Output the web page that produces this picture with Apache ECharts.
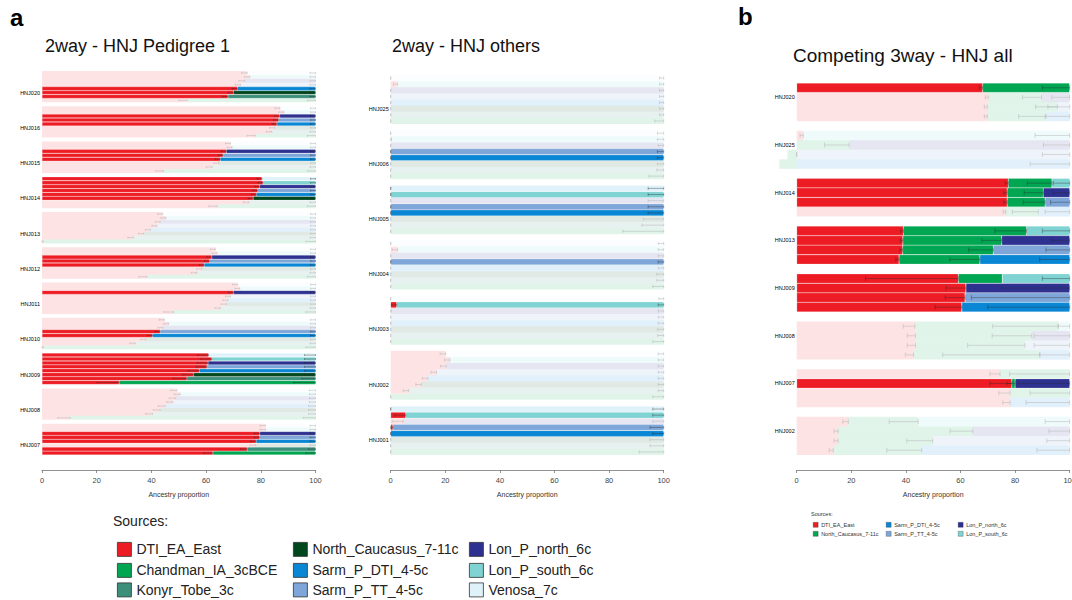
<!DOCTYPE html>
<html>
<head>
<meta charset="utf-8">
<script src="https://cdn.jsdelivr.net/npm/echarts@6/dist/echarts.min.js"></script>
<style>
html, body { margin: 0; padding: 0; background: #fff; }
#chart { width: 1072px; height: 600px; }
</style>
</head>
<body>
<div id="chart"></div>
<script>
// sources and their colours
const sourceNames = ['DTI_EA_East', 'Chandman_IA_3cBCE', 'Konyr_Tobe_3c', 'North_Caucasus_7-11c',
  'Sarm_P_DTI_4-5c', 'Sarm_P_TT_4-5c', 'Lon_P_north_6c', 'Lon_P_south_6c', 'Venosa_7c'];
const sourceColors = ['#ed1c24', '#00a651', '#3b8f7b', '#00471d',
  '#0a87d4', '#7ea6d8', '#2e3190', '#7fd3d2', '#dff2fa'];

// second source of each row inside a 2way group (top -> bottom)
const rows2way = ['Venosa_7c', 'Lon_P_south_6c', 'Lon_P_north_6c', 'Sarm_P_TT_4-5c',
  'Sarm_P_DTI_4-5c', 'North_Caucasus_7-11c', 'Konyr_Tobe_3c', 'Chandman_IA_3cBCE'];
// third source of each row inside a 3way group
const rows3way = ['Lon_P_south_6c', 'Lon_P_north_6c', 'Sarm_P_TT_4-5c', 'Sarm_P_DTI_4-5c'];

const xTicks = [0, 20, 40, 60, 80, 100];

// ---- panel a, 2way - HNJ Pedigree 1 ----
const groupsPed = ['HNJ020', 'HNJ016', 'HNJ015', 'HNJ014', 'HNJ013', 'HNJ012', 'HNJ011', 'HNJ010', 'HNJ009', 'HNJ008', 'HNJ007'];
// DTI_EA_East proportion (%) per row
const dtiPed = [
  [75, 76, 74, 72.6, 71.5, 70, 68, 53],
  [87, 88.4, 86.9, 86.5, 85.9, 85, 84, 78],
  [68.9, 69.5, 67.4, 66.2, 65.2, 64.6, 62.1, 44.4],
  [80.4, 80.8, 79.6, 78.9, 78.4, 77.2, 75.6, 64],
  [44.1, 45.3, 43.2, 42, 39.6, 37.1, 33.4, 0.5],
  [63.4, 64, 62.1, 61.3, 59.3, 58.4, 56.6, 38.3],
  [71.5, 72.3, 70, 68.9, 68, 67.3, 65.2, 48.1],
  [44.7, 46.3, 44.2, 43.2, 40.4, 37.9, 34.1, 0.5],
  [60.9, 62.1, 60.7, 60.3, 57.5, 55.4, 53, 28.2],
  [49.3, 50.5, 48.7, 47.8, 45, 43.2, 40.4, 10.3],
  [81.7, 81.7, 79.6, 79.6, 78.3, 78, 75, 62.5]
];
// 1 = model fits (solid), 0 = rejected (faded)
const okPed = [
  [0, 0, 0, 0, 1, 1, 1, 0],
  [0, 0, 1, 1, 1, 0, 0, 0],
  [0, 0, 1, 1, 1, 0, 0, 0],
  [1, 1, 1, 1, 1, 1, 0, 0],
  [0, 0, 0, 0, 0, 0, 0, 0],
  [0, 0, 1, 1, 1, 0, 0, 0],
  [0, 0, 1, 0, 0, 0, 0, 0],
  [0, 0, 0, 1, 1, 0, 0, 0],
  [1, 1, 1, 1, 1, 1, 1, 1],
  [0, 0, 0, 0, 0, 0, 0, 0],
  [0, 0, 1, 1, 1, 0, 1, 1]
];
const sePed = [
  [2, 2, 2, 2, 2, 2, 2, 3],
  [1.8, 1.8, 1.8, 1.8, 1.8, 1.8, 2, 3],
  [1.8, 1.8, 1.8, 1.8, 1.8, 1.8, 2, 2.8],
  [1.8, 1.8, 1.8, 1.8, 1.8, 1.8, 2, 3],
  [1.8, 1.8, 1.8, 1.8, 1.8, 1.8, 2, 3.5],
  [1.8, 1.8, 1.8, 1.8, 1.8, 1.8, 2, 3],
  [1.8, 1.8, 1.8, 1.8, 1.8, 1.8, 2, 3.5],
  [1.8, 1.8, 1.8, 1.8, 1.8, 1.8, 2, 3.5],
  [4, 4, 4, 4, 4, 4, 5, 8],
  [2.2, 2.2, 2.2, 2.2, 2.5, 2.5, 2.5, 4.5],
  [2, 2, 2, 2, 2, 2, 2.5, 3.5]
];

// ---- panel a, 2way - HNJ others ----
const groupsOth = ['HNJ025', 'HNJ006', 'HNJ005', 'HNJ004', 'HNJ003', 'HNJ002', 'HNJ001'];
const dtiOth = [
  [0, 2.5, 0, 0, 0, 0, 0, 0],
  [0, 0.3, 0, 0, 0, 0, 0, 0],
  [0, 0, 0, 0, 0, 0, 0, 0],
  [0, 2.5, 0, 0, 0, 0, 0, 0],
  [0, 2.2, 0.2, 0, 0, 0, 0, 0],
  [20.1, 21.7, 20.3, 16.8, 13.6, 11.2, 6.6, 0],
  [0, 5.5, 4.5, 0.8, 0, 0, 0, 0]
];
const okOth = [
  [0, 0, 0, 0, 0, 0, 0, 0],
  [0, 0, 0, 1, 1, 0, 0, 0],
  [1, 1, 0, 1, 1, 0, 0, 0],
  [0, 0, 0, 1, 0, 0, 0, 0],
  [0, 1, 0, 0, 0, 0, 0, 0],
  [0, 0, 0, 0, 0, 0, 0, 0],
  [1, 1, 0, 1, 1, 0, 0, 0]
];
const seOth = [
  [1.5, 1.5, 1.5, 1.5, 1.5, 1.5, 1.5, 3.3],
  [2.3, 2.3, 2, 2.3, 2.3, 2.3, 2.5, 5.4],
  [5.7, 5.7, 5.7, 5.7, 5.7, 7.5, 8, 15],
  [2, 2, 2, 2, 2, 2.5, 2.5, 4],
  [1.8, 2, 2, 2, 2, 2.2, 2.2, 4],
  [2, 2, 2, 2, 2, 2, 2, 4],
  [4, 4, 4, 5, 4, 5, 5, 9]
];

// ---- panel b, competing 3way ----
const groups3 = ['HNJ020', 'HNJ025', 'HNJ014', 'HNJ013', 'HNJ009', 'HNJ008', 'HNJ007', 'HNJ002'];
const dti3 = [
  [68.1, 70.2, 69.8, 69.8],
  [2.4, 0, 0, 0],
  [77.5, 77.1, 77.1, 76.6],
  [39.1, 38.9, 38.8, 37.5],
  [59.2, 62, 61.7, 60.5],
  [43.3, 43.5, 43.5, 42.8],
  [74.5, 78.8, 78.2, 78.2],
  [18.9, 15.2, 15.2, 13.4]
];
const chd3 = [
  [31.9, 19.5, 25.7, 21.5],
  [0, 19.2, -3.4, -6.4],
  [16, 13.2, 13.9, 11.9],
  [45.1, 36.2, 33.2, 29.6],
  [16.1, 0, 0, 0],
  [52.5, 42.6, 40.1, 46.3],
  [25.5, 1.2, 21.8, 0],
  [25.6, 49.3, 34.6, 32.4]
];
const oth3 = [
  [0, 10.3, 4.5, 8.7],
  [97.6, 80.8, 100, 100],
  [6.5, 9.7, 9, 11.5],
  [15.8, 24.9, 28, 32.9],
  [24.7, 38, 38.3, 39.5],
  [4.2, 13.9, 16.4, 10.9],
  [0, 20, 0, 21.8],
  [55.5, 35.5, 50.2, 54.2]
];
const ok3 = [
  [1, 0, 0, 0],
  [0, 0, 0, 0],
  [1, 1, 1, 0],
  [1, 1, 1, 1],
  [1, 1, 1, 1],
  [0, 0, 0, 0],
  [0, 1, 0, 0],
  [0, 0, 0, 0]
];
// visible error-bar lengths at the end of each component
const seDti3 = [
  [1.2, 1.1, 1.1, 1.1], [1.2, 0, 0.5, 0], [1.1, 1.2, 1.2, 1], [1, 1, 1, 1.2],
  [34, 7.3, 7.3, 9.8], [4.3, 3, 3, 3], [3.7, 8, 4.2, 2.7], [2, 1.5, 1.5, 1.5]
];
const seChd3 = [
  [10, 7, 8, 10], [0, 9, 0, 0], [9, 7, 8, 9.5], [11.6, 7.3, 9, 11],
  [0, 0, 0, 0], [24, 14.5, 21, 35.6], [22, 3, 14.5, 0], [10.6, 8.3, 9.5, 12.8]
];
const seOth3 = [
  [0, 6.6, 8, 9], [12.7, 9.6, 10, 14.5], [6, 6, 7, 9], [10, 6.6, 8.7, 11],
  [10, 25, 36, 30], [4.2, 13, 13, 11], [0, 19, 0, 16], [9, 7.6, 8.4, 12]
];

// legend layout: [name, left, top]
const mainLegend = [
  ['DTI_EA_East', 117, 542], ['Chandman_IA_3cBCE', 117, 563], ['Konyr_Tobe_3c', 117, 582.5],
  ['North_Caucasus_7-11c', 293, 542], ['Sarm_P_DTI_4-5c', 293, 563], ['Sarm_P_TT_4-5c', 293, 582.5],
  ['Lon_P_north_6c', 469, 542], ['Lon_P_south_6c', 469, 563], ['Venosa_7c', 469, 582.5]
];
const smallLegendItems = [
  ['DTI_EA_East', 813, 521.8], ['North_Caucasus_7-11c', 813, 530.8],
  ['Sarm_P_DTI_4-5c', 886, 521.8], ['Sarm_P_TT_4-5c', 886, 530.8],
  ['Lon_P_north_6c', 958, 521.8], ['Lon_P_south_6c', 958, 530.8]
];

const FADE = 0.12;
const FONT = '"Liberation Sans", Arial, Helvetica, sans-serif';
const colorOf = (name) => sourceColors[sourceNames.indexOf(name)];

function barItem(v, acc) {
  if (v === '-') return '-';
  return acc
    ? { value: v, itemStyle: { borderColor: 'rgba(255,255,255,0.55)', borderWidth: 0.4 } }
    : { value: v, itemStyle: { opacity: FADE } };
}

// builds categories, stacked data per source and error bars for a 2way panel
function build2way(groups, dti, ok, se) {
  const cats = [];
  const data = {};
  sourceNames.forEach((s) => (data[s] = []));
  const err = [];
  groups.forEach((g, gi) => {
    if (gi > 0) {
      cats.push('gap' + gi);
      sourceNames.forEach((s) => data[s].push('-'));
    }
    rows2way.forEach((src, k) => {
      const idx = cats.length;
      cats.push(g + '#' + k);
      const p = dti[gi][k];
      const acc = ok[gi][k] === 1;
      sourceNames.forEach((s) => {
        let v = '-';
        if (s === 'DTI_EA_East') v = p;
        else if (s === src) v = 100 - p;
        data[s].push(barItem(v, acc));
      });
      const e = se[gi][k];
      err.push([Math.max(0, p - e), p, idx, acc ? 1 : 0]);
      err.push([100 - e, 100, idx, acc ? 1 : 0]);
    });
  });
  return { cats, data, err, labelRow: '#5' };
}

function build3way() {
  const used = ['DTI_EA_East', 'Chandman_IA_3cBCE'].concat(rows3way);
  const cats = [];
  const data = {};
  used.forEach((s) => (data[s] = []));
  const err = [];
  groups3.forEach((g, gi) => {
    if (gi > 0) {
      cats.push('gap' + gi);
      used.forEach((s) => data[s].push('-'));
    }
    rows3way.forEach((src, k) => {
      const idx = cats.length;
      cats.push(g + '#' + k);
      const a = dti3[gi][k], b = chd3[gi][k], c = oth3[gi][k];
      const acc = ok3[gi][k] === 1;
      used.forEach((s) => {
        let v = '-';
        if (s === 'DTI_EA_East') v = a;
        else if (s === 'Chandman_IA_3cBCE') v = b;
        else if (s === src) v = c;
        data[s].push(barItem(v, acc));
      });
      const f = acc ? 1 : 0;
      const c1 = a, c2 = a + Math.max(b, 0);
      if (seDti3[gi][k] > 0) err.push([Math.max(0, c1 - seDti3[gi][k]), c1, idx, f]);
      if (seChd3[gi][k] > 0) err.push([Math.max(0, c2 - seChd3[gi][k]), c2, idx, f]);
      if (seOth3[gi][k] > 0) err.push([100 - seOth3[gi][k], 100, idx, f]);
    });
  });
  return { cats, data, err, used, labelRow: '#1' };
}

const panels = [
  Object.assign(build2way(groupsPed, dtiPed, okPed, sePed), { used: sourceNames, grid: { left: 42, top: 71, width: 273.5, height: 384 } }),
  Object.assign(build2way(groupsOth, dtiOth, okOth, seOth), { used: sourceNames, grid: { left: 390.7, top: 75, width: 273, height: 380 } }),
  Object.assign(build3way(), { grid: { left: 796.7, top: 83, width: 273, height: 372 } })
];

const grids = [], xAxes = [], yAxes = [], series = [];
panels.forEach((p, i) => {
  // keep the grid where it is even if a label runs past the page edge
  grids.push(Object.assign({ outerBoundsMode: 'none', containLabel: false }, p.grid));
  xAxes.push({
    type: 'value', gridIndex: i, min: 0, max: 100, interval: 20, offset: 15,
    axisLine: { show: true, lineStyle: { color: '#777', width: 0.8 } },
    axisTick: { show: true, length: 3, lineStyle: { color: '#777', width: 0.8 } },
    axisLabel: { fontSize: 7.5, color: '#444', margin: 6, fontFamily: FONT,
      formatter: (v) => (xTicks.includes(v) ? String(v) : '') },
    splitLine: { show: false },
    name: 'Ancestry proportion', nameLocation: 'middle', nameGap: 21,
    nameTextStyle: { fontSize: 7, color: '#333', fontFamily: FONT }
  });
  yAxes.push({
    type: 'category', gridIndex: i, data: p.cats, inverse: true,
    axisLine: { show: false }, axisTick: { show: false }, splitLine: { show: false },
    axisLabel: {
      interval: 0, fontSize: 5.5, color: '#000', margin: 2, fontFamily: FONT,
      formatter: (v) => (v.endsWith(p.labelRow) ? v.split('#')[0] : '')
    }
  });
  p.used.forEach((s) => {
    series.push({
      type: 'bar', name: s, stack: 'p' + i, xAxisIndex: i, yAxisIndex: i,
      barCategoryGap: '0%', clip: false, silent: true,
      itemStyle: { color: colorOf(s) },
      data: p.data[s]
    });
  });
  series.push({
    type: 'custom', name: 'err' + i, xAxisIndex: i, yAxisIndex: i, z: 5, silent: true, clip: false,
    encode: { x: [0, 1], y: 2 },
    renderItem: (params, api) => {
      const row = api.value(2);
      const a = api.coord([api.value(0), row]);
      const b = api.coord([api.value(1), row]);
      const h = api.size([0, 1])[1] * 0.25;
      const style = { stroke: api.value(3) ? 'rgba(40,40,40,0.75)' : '#b4b4b4', lineWidth: 0.5 };
      return {
        type: 'group',
        children: [
          { type: 'line', shape: { x1: a[0], y1: a[1], x2: b[0], y2: b[1] }, style },
          { type: 'line', shape: { x1: a[0], y1: a[1] - h, x2: a[0], y2: a[1] + h }, style },
          { type: 'line', shape: { x1: b[0], y1: b[1] - h, x2: b[0], y2: b[1] + h }, style }
        ]
      };
    },
    data: p.err
  });
});

const titleStyle = { fontFamily: FONT, color: '#111', fontWeight: 'normal' };
const legends = [];
mainLegend.forEach(([name, left, top]) => legends.push({
  orient: 'vertical', left, top, padding: 0, itemWidth: 14, itemHeight: 14,
  icon: 'rect', selectedMode: false, data: [name],
  itemStyle: { borderColor: '#333', borderWidth: 0.8 },
  textStyle: { fontSize: 14, color: '#222', fontFamily: FONT }
}));
smallLegendItems.forEach(([name, left, top]) => legends.push({
  orient: 'vertical', left, top, padding: 0, itemWidth: 5, itemHeight: 5,
  icon: 'rect', selectedMode: false,
  // the reference's small legend shows this label with the green swatch
  data: [name === 'North_Caucasus_7-11c' ? { name, itemStyle: { color: '#00a651' } } : name],
  itemStyle: { borderColor: '#333', borderWidth: 0.3 },
  textStyle: { fontSize: 5.5, color: '#333', fontFamily: FONT, padding: [0, 0, 0, -2] }
}));

const option = {
  animation: false,
  backgroundColor: '#fff',
  title: [
    { text: 'a', left: 10, top: 5, padding: 0, textStyle: { fontFamily: FONT, fontSize: 24, fontWeight: 'bold', color: '#000' } },
    { text: 'b', left: 738, top: 4, padding: 0, textStyle: { fontFamily: FONT, fontSize: 24, fontWeight: 'bold', color: '#000' } },
    { text: '2way - HNJ Pedigree 1', left: 45, top: 37, padding: 0, textStyle: Object.assign({ fontSize: 18 }, titleStyle) },
    { text: '2way - HNJ others', left: 392, top: 37, padding: 0, textStyle: Object.assign({ fontSize: 18 }, titleStyle) },
    { text: 'Competing 3way - HNJ all', left: 793, top: 46, padding: 0, textStyle: Object.assign({ fontSize: 19 }, titleStyle) },
    { text: 'Sources:', left: 113, top: 514, padding: 0, textStyle: Object.assign({ fontSize: 14 }, titleStyle, { color: '#222' }) },
    { text: 'Sources:', left: 811, top: 511, padding: 0, textStyle: Object.assign({ fontSize: 5.5 }, titleStyle, { color: '#333' }) }
  ],
  legend: legends,
  grid: grids,
  xAxis: xAxes,
  yAxis: yAxes,
  series: series
};

const chart = echarts.init(document.getElementById('chart'), null, { renderer: 'svg' });
chart.setOption(option);
</script>
</body>
</html>
